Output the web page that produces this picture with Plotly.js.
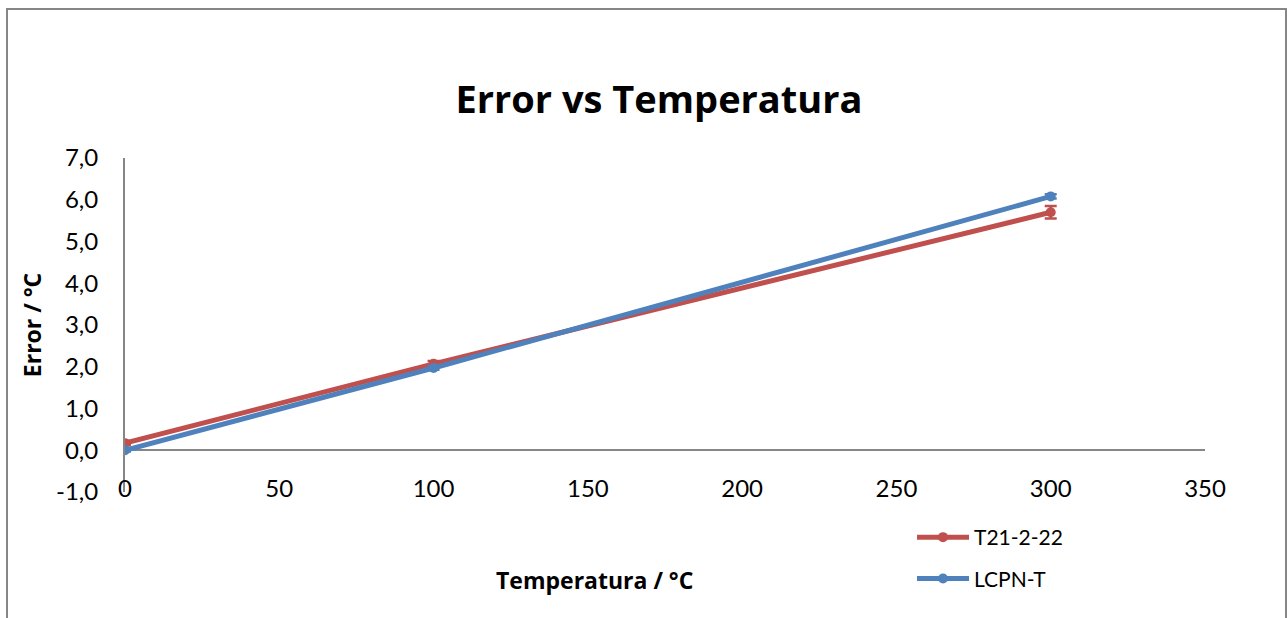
<!DOCTYPE html>
<html>
<head>
<meta charset="utf-8">
<script src="https://cdn.plot.ly/plotly-3.0.1.min.js"></script>
<style>html,body{margin:0;padding:0;background:#fff;}#chart{width:1287px;height:618px;}</style>
</head>
<body>
<div id="chart"></div>
<script>
const temperatures = [0, 100, 300];
const errT21 = [0.17, 2.07, 5.70];
const uncT21 = [0.05, 0.07, 0.15];
const errLCPN = [0.0, 1.97, 6.08];
const uncLCPN = [0.03, 0.04, 0.05];
const xTicks = [0, 50, 100, 150, 200, 250, 300, 350];
const yTicks = [-1, 0, 1, 2, 3, 4, 5, 6, 7];
const yTickText = ['-1,0', '0,0', '1,0', '2,0', '3,0', '4,0', '5,0', '6,0', '7,0'];

const font = "Lato, 'Open Sans', sans-serif";
const boldFont = "'Open Sans', Lato, sans-serif";

const traces = [
  {
    name: 'T21-2-22', legendgroup: 'a', x: temperatures, y: errT21, type: 'scatter', mode: 'lines+markers',
    line: {color: '#C0504D', width: 5}, marker: {color: '#C0504D', size: 10},
    error_y: {type: 'data', array: uncT21, visible: true, color: '#C0504D', thickness: 2.5, width: 6}
  },
  {
    name: 'LCPN-T', legendgroup: 'b', x: temperatures, y: errLCPN, type: 'scatter', mode: 'lines+markers',
    line: {color: '#4F81BD', width: 5}, marker: {color: '#4F81BD', size: 10},
    error_y: {type: 'data', array: uncLCPN, visible: true, color: '#4F81BD', thickness: 2.5, width: 6}
  }
];

const L = 125, R = 1205, T = 158, B = 492, W = 1287, H = 618;
const px2x = p => (p - L) / (R - L);
const px2y = p => (B - p) / (B - T);

const layout = {
  width: W, height: H,
  margin: {l: L, r: W - R, t: T, b: H - B, pad: 0},
  paper_bgcolor: '#fff', plot_bgcolor: '#fff',
  separators: ',.',
  showlegend: true,
  font: {family: font, size: 20, color: '#000'},
  title: {text: '<b>Error vs Temperatura</b>', font: {family: boldFont, size: 38, color: '#000'},
          x: 659 / W, xanchor: 'center', y: 1 - 100 / H, yanchor: 'middle'},
  xaxis: {
    range: [0, 350], tickvals: xTicks, ticktext: xTicks.map(String),
    showgrid: false, zeroline: false, showline: false, ticks: '',
    tickfont: {family: font, size: 24, color: '#000'}, ticklabelstandoff: -20,
    fixedrange: true
  },
  yaxis: {
    range: [-1, 7], tickvals: yTicks, ticktext: yTickText,
    showgrid: false, zeroline: true, zerolinecolor: '#868686', zerolinewidth: 2,
    showline: true, linecolor: '#868686', linewidth: 2, ticks: '',
    tickfont: {family: font, size: 24, color: '#000'}, ticklabelstandoff: 20,
    title: {text: '<b>Error / °C</b>', font: {family: boldFont, size: 23, color: '#000'}, standoff: 8},
    fixedrange: true
  },
  legend: {
    x: px2x(912), y: px2y(517), xanchor: 'left', yanchor: 'top',
    font: {family: font, size: 21, color: '#000'}, itemwidth: 52,
    traceorder: 'grouped', tracegroupgap: 11, bgcolor: 'rgba(0,0,0,0)', itemclick: false
  },
  annotations: [
    {text: '<b>Temperatura / °C</b>', xref: 'paper', yref: 'paper', x: px2x(594), y: px2y(580),
     xanchor: 'center', yanchor: 'middle', showarrow: false, font: {family: boldFont, size: 23, color: '#000'}}
  ],
  shapes: [
    {type: 'rect', xref: 'paper', yref: 'paper', x0: px2x(7), x1: px2x(1286), y0: px2y(640), y1: px2y(9),
     line: {color: '#868686', width: 2}, fillcolor: 'rgba(0,0,0,0)', layer: 'below'}
  ]
};

Plotly.newPlot('chart', traces, layout, {staticPlot: true, displayModeBar: false});
</script>
</body>
</html>
